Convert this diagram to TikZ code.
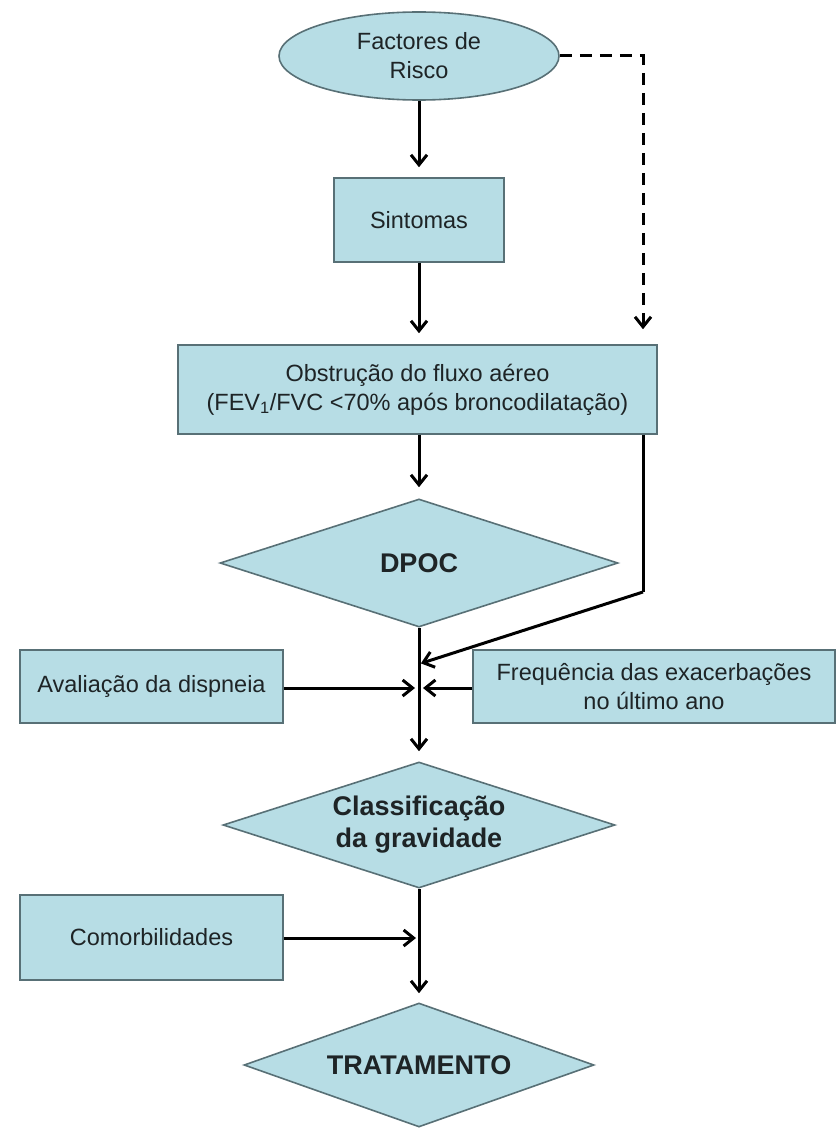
\documentclass[tikz,border=0pt]{standalone}
\usepackage{fontspec}
\setmainfont{Liberation Sans}
\usetikzlibrary{shapes.geometric,arrows.meta}
\definecolor{fillc}{RGB}{183,221,229}
\definecolor{bordc}{RGB}{88,112,118}
\definecolor{txtc}{RGB}{30,36,38}
\newcommand{\regf}{\fontsize{23.5pt}{29pt}\selectfont}
\newcommand{\boldf}{\fontsize{27pt}{32pt}\selectfont\bfseries}
\begin{document}
\begin{tikzpicture}[x=1pt,y=-1pt,
  shp/.style={draw=bordc,line width=1.6pt,fill=fillc,inner sep=0pt,align=center,text=txtc},
  boxn/.style={shp,rectangle,font=\regf},
  dia/.style={shp,diamond,aspect=3.1,font=\boldf},
  arr/.style={line width=3pt,-{Straight Barb[length=10pt,width=16pt]}},
  ln/.style={line width=3pt},
  darr/.style={line width=3pt,dash pattern=on 12pt off 8pt,-{Straight Barb[length=10pt,width=16pt]}}
]
\useasboundingbox[fill=white] (0,0) rectangle (837,1129);
\node[shp,ellipse,minimum width=280pt,minimum height=88pt,font=\regf] (risk) at (419,56) {Factores de\\Risco};
\node[boxn,minimum width=170pt,minimum height=84pt] (sint) at (419,220) {Sintomas};
\node[boxn,minimum width=479pt,minimum height=89pt] (obs) at (417.5,389.5) {Obstrução do fluxo aéreo\\(FEV\textsubscript{1}/FVC <70\% após broncodilatação)};
\node[dia,minimum width=398pt,minimum height=128pt] (dpoc) at (419,563) {DPOC};
\node[boxn,minimum width=263pt,minimum height=73pt] (aval) at (151.5,686.5) {Avaliação da dispneia};
\node[boxn,minimum width=362pt,minimum height=73pt] (freq) at (654,686.5) {Frequência das exacerbações\\no último ano};
\node[dia,minimum width=392pt,minimum height=126pt] (clas) at (419,825) {Classificação\\da gravidade};
\node[boxn,minimum width=263pt,minimum height=85pt] (como) at (151.5,937.5) {Comorbilidades};
\node[dia,minimum width=350pt,minimum height=124pt] (trat) at (419,1065) {TRATAMENTO};
\coordinate (bend) at (643,592);
\coordinate (jin) at (419,664);
\coordinate (j) at (419,688);
\coordinate (j2) at (419,938);
\draw[arr,shorten >=10pt] (risk) -- (sint);
\draw[darr,shorten >=15pt] (risk.east) -| (obs.north -| bend);
\draw[arr,shorten >=11pt] (sint) -- (sint |- obs.north);
\draw[arr,shorten >=11pt] (obs.south -| dpoc.north) -- (dpoc.north);
\draw[ln] (obs.south -| bend) -- (bend);
\draw[arr,shorten >=2pt] (bend) -- (jin);
\draw[arr,shorten >=10pt] (dpoc.south) -- (clas.north);
\draw[arr,shorten >=4pt] (aval.east |- j) -- (j);
\draw[arr,shorten >=4pt] (freq.west |- j) -- (j);
\draw[arr,shorten >=9pt] (clas.south) -- (trat.north);
\draw[arr,shorten >=3pt] (como.east |- j2) -- (j2);
\end{tikzpicture}
\end{document}
